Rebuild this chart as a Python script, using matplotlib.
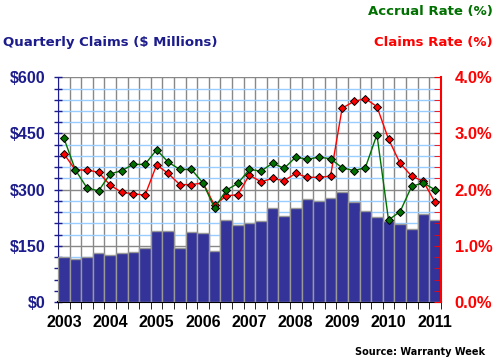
import numpy as np
import matplotlib.pyplot as plt
from matplotlib.ticker import FixedLocator, MultipleLocator

years = ['2003', '2004', '2005', '2006', '2007', '2008', '2009', '2010', '2011']

# quarterly claims, $ millions, 2003Q1 .. 2011Q1
claims = [119, 116, 121, 132, 125, 132, 134, 145, 190, 190, 145, 188, 185, 137,
          220, 206, 212, 217, 251, 230, 251, 275, 269, 277, 293, 267, 243, 227,
          217, 208, 195, 235, 219]

# claims as % of revenue
claims_rate = [2.64, 2.35, 2.35, 2.31, 2.08, 1.95, 1.93, 1.90, 2.44, 2.29, 2.09,
               2.09, 2.12, 1.72, 1.89, 1.91, 2.26, 2.14, 2.20, 2.16, 2.29, 2.22,
               2.22, 2.24, 3.45, 3.57, 3.62, 3.48, 2.90, 2.47, 2.24, 2.15, 1.78]

# accruals as % of revenue
accrual_rate = [2.92, 2.35, 2.03, 1.98, 2.28, 2.34, 2.45, 2.45, 2.71, 2.49, 2.36,
                2.36, 2.12, 1.67, 1.99, 2.11, 2.36, 2.33, 2.47, 2.38, 2.58, 2.54,
                2.58, 2.55, 2.39, 2.34, 2.39, 2.98, 1.46, 1.61, 2.06, 2.12, 2.00]

navy = '#333399'
dark_navy = '#1c1c8c'
red = '#ff0000'
green = '#007000'

n = len(claims)
xpos = np.arange(n) + 0.5

fig = plt.figure(figsize=(4.96, 3.63), dpi=100)
ax = fig.add_axes([0.117, 0.168, 0.7715, 0.619])

ax.bar(xpos, claims, width=1.0, color=navy, edgecolor='#999999', linewidth=1, zorder=3)
ax.set_xlim(0, n)
ax.set_ylim(0, 600)

# gridlines
ax.set_yticks(np.arange(0, 601, 150))
ax.yaxis.set_minor_locator(MultipleLocator(30))
ax.xaxis.set_minor_locator(FixedLocator(np.arange(0, n + 1)))
ax.grid(which='minor', axis='y', color='#99ccff', linewidth=1, zorder=0)
ax.grid(which='major', axis='y', color='#888888', linewidth=1, zorder=1)
ax.grid(which='minor', axis='x', color='#888888', linewidth=1, zorder=1)

ax.set_xticks(np.arange(0, n, 4) + 0.5)
ax.set_xticklabels(years, fontsize=11.5, fontweight='bold', family='Liberation Sans')
ax.tick_params(axis='x', which='major', length=0, pad=9)
ax.tick_params(axis='x', which='minor', length=5, color='black', direction='out')

ax.set_yticklabels(['$%d' % v for v in range(0, 601, 150)], fontsize=11.5,
                   fontweight='bold', family='Liberation Sans', color=dark_navy)
ax.tick_params(axis='y', which='both', colors=dark_navy, direction='inout', length=6, width=1)
ax.tick_params(axis='y', which='major', labelcolor=dark_navy, pad=6)

for s in ['top', 'right']:
    ax.spines[s].set_visible(False)
ax.spines['left'].set_color(dark_navy)
ax.spines['bottom'].set_color('black')
ax.spines['bottom'].set_linewidth(1.5)

ax2 = ax.twinx()
ax2.set_ylim(0, 4)
ax2.plot(xpos, claims_rate, color=red, linewidth=1, marker='D', markersize=4.5,
         markerfacecolor=red, markeredgecolor='black', markeredgewidth=0.7, zorder=5)
ax2.plot(xpos, accrual_rate, color=green, linewidth=1, marker='D', markersize=4.5,
         markerfacecolor=green, markeredgecolor='black', markeredgewidth=0.7, zorder=6)
ax2.set_yticks(np.arange(0, 4.01, 1))
ax2.yaxis.set_minor_locator(MultipleLocator(0.2))
ax2.set_yticklabels(['%.1f%%' % v for v in range(0, 5)], fontsize=12,
                    fontweight='bold', family='Liberation Sans', color=red)
ax2.tick_params(axis='y', which='both', colors=red, direction='in', length=5)
ax2.tick_params(axis='y', which='major', labelcolor=red, pad=10)
for s in ['top', 'left', 'bottom']:
    ax2.spines[s].set_visible(False)
ax2.spines['right'].set_color(red)
ax2.spines['right'].set_linewidth(1.5)

fig.text(0.006, 0.883, 'Quarterly Claims ($ Millions)', fontsize=9.5, fontweight='bold',
         color=dark_navy, va='center', ha='left')
fig.text(0.994, 0.967, 'Accrual Rate (%)', fontsize=9.5, fontweight='bold',
         color=green, va='center', ha='right')
fig.text(0.994, 0.883, 'Claims Rate (%)', fontsize=9.5, fontweight='bold',
         color=red, va='center', ha='right')
fig.text(0.978, 0.03, 'Source: Warranty Week', fontsize=7, fontweight='bold',
         color='black', va='center', ha='right')

fig.savefig('out.png', dpi=100)
